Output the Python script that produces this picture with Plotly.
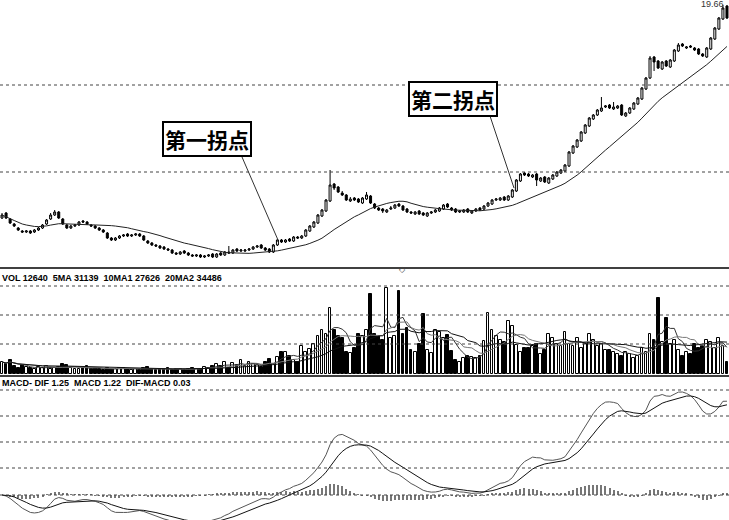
import pandas as pd
import plotly.graph_objects as go

# price data (one candle per trading day)
closes = [5.1,4.8,4.3,4.0,3.6,3.4,3.5,3.3,3.6,3.8,
4.1,4.6,5.1,5.4,4.8,4.2,3.8,4.0,4.1,4.4,
4.4,4.2,4.0,3.8,3.6,3.4,2.8,2.6,2.8,3.0,
3.1,3.0,3.1,3.2,3.0,2.6,2.3,2.1,2.0,1.8,
1.7,1.6,1.3,1.2,1.4,1.3,1.1,1.0,1.1,0.9,
1.0,1.1,0.9,1.2,1.1,1.4,1.3,1.6,1.5,1.6,
1.6,1.7,1.9,2.0,1.8,1.6,1.4,2.1,2.6,2.4,
2.6,2.5,2.9,2.8,3.0,3.6,4.0,4.4,5.1,5.6,
6.6,8.1,7.8,7.4,7.1,6.6,6.7,6.6,6.4,6.8,
7.1,6.3,5.8,5.6,5.5,5.6,5.8,6.1,6.0,5.6,
5.4,5.3,5.4,5.2,5.1,5.3,5.4,5.6,5.8,6.1,
5.9,5.6,5.4,5.5,5.6,5.4,5.5,5.7,5.6,6.0,
6.3,6.6,6.7,6.8,6.6,7.0,7.6,8.6,9.2,9.1,
9.0,9.1,8.6,8.8,8.4,8.8,9.1,9.4,9.6,10.1,
11.4,12.0,12.6,13.4,14.1,14.8,15.1,15.6,15.8,16.0,
15.8,15.9,16.0,15.1,15.3,15.8,16.3,16.8,17.8,18.8,
20.8,20.4,19.8,20.4,20.0,20.6,21.6,22.1,22.0,21.9,
21.9,21.6,21.2,21.0,21.8,22.8,23.8,24.8,25.8,24.8]

opens = [4.8,5.3,4.7,4.2,3.8,3.5,3.4,3.5,3.4,3.6,
3.8,4.2,4.7,5.1,5.4,4.7,4.1,3.8,4.0,4.1,
4.5,4.4,4.1,4.0,3.8,3.6,3.3,2.8,2.6,2.8,
3.0,3.2,3.0,3.1,3.2,3.0,2.5,2.3,2.1,2.0,
1.9,1.7,1.6,1.3,1.2,1.5,1.3,1.1,1.0,1.1,
0.9,1.0,1.2,0.9,1.3,1.1,1.4,1.3,1.7,1.5,
1.5,1.6,1.7,1.9,2.1,1.8,1.7,1.4,2.1,2.6,
2.4,2.7,2.5,2.9,2.8,3.0,3.5,3.9,4.3,5.0,
5.5,6.5,8.2,7.9,7.3,7.1,6.5,6.8,6.7,6.3,
6.7,7.0,6.2,5.8,5.7,5.4,5.7,5.8,6.2,6.0,
5.7,5.4,5.2,5.5,5.3,5.0,5.3,5.4,5.5,5.7,
6.2,5.8,5.7,5.4,5.4,5.7,5.3,5.5,5.8,5.7,
6.0,6.2,6.6,6.6,6.9,6.6,6.9,7.5,8.5,9.3,
9.2,8.9,9.2,8.5,8.9,8.3,8.7,9.0,9.3,9.5,
10.0,11.3,11.9,12.5,13.3,14.0,14.7,15.1,15.5,15.9,
16.1,15.7,15.8,16.1,15.0,15.3,15.7,16.2,16.7,17.7,
18.8,20.9,20.5,19.7,20.5,19.9,20.5,21.5,22.2,21.8,
22.0,21.8,21.7,21.2,20.9,21.7,22.7,23.7,24.7,26.0]

highs = [5.3,5.4,4.8,4.3,3.9,3.6,3.6,3.6,3.7,3.9,
4.2,4.7,5.3,5.6,5.5,4.8,4.2,4.1,4.2,4.5,
4.6,4.5,4.2,4.1,3.9,3.7,3.4,2.9,2.9,3.1,
3.2,3.3,3.2,3.3,3.3,3.1,2.6,2.4,2.2,2.1,
2.0,1.8,1.7,1.4,1.5,1.6,1.4,1.2,1.2,1.2,
1.1,1.2,1.3,1.3,1.4,1.5,2.0,1.7,1.8,1.7,
1.7,1.8,2.0,2.1,2.2,1.9,1.8,2.2,2.7,2.7,
2.7,2.8,3.0,3.0,3.1,3.7,4.1,4.5,5.2,5.7,
6.7,9.6,8.3,8.0,7.5,7.2,6.9,6.9,6.8,6.9,
7.4,7.1,6.3,5.9,5.8,5.7,6.0,6.2,6.3,6.1,
5.8,5.5,5.5,5.6,5.4,5.4,5.5,5.7,5.9,6.2,
6.3,5.9,5.8,5.6,5.7,5.8,5.6,5.8,5.9,6.1,
6.4,6.7,6.8,6.9,7.0,7.1,7.7,8.7,9.3,9.4,
9.3,9.2,9.3,8.9,9.0,8.9,9.2,9.5,9.7,10.2,
11.5,12.1,12.7,13.5,14.2,14.9,15.2,15.7,16.9,16.1,
16.2,16.4,16.1,16.2,15.4,15.9,16.4,16.9,17.9,18.9,
21.0,21.0,20.6,20.5,20.6,20.7,21.7,22.3,22.3,22.0,
22.1,21.9,21.8,21.3,21.9,22.9,23.9,24.9,26.1,26.1]

lows = [4.7,4.7,4.2,3.9,3.5,3.3,3.3,3.2,3.3,3.5,
3.7,4.1,4.6,5.0,4.7,4.1,3.7,3.7,3.9,4.0,
4.3,4.1,3.9,3.7,3.5,3.3,2.7,2.5,2.5,2.7,
2.9,2.9,2.9,3.0,2.9,2.5,2.2,2.0,1.9,1.7,
1.6,1.5,1.2,1.1,1.1,1.2,1.0,0.9,0.9,0.8,
0.8,0.9,0.8,0.8,1.0,1.0,1.2,1.2,1.4,1.4,
1.4,1.5,1.6,1.8,1.7,1.5,1.3,1.3,2.0,2.3,
2.3,2.4,2.4,2.7,2.7,2.9,3.4,3.8,4.2,4.9,
5.4,6.4,7.6,7.3,7.0,6.5,6.4,6.5,6.3,6.2,
6.6,6.2,5.7,5.5,5.3,5.3,5.6,5.7,5.9,5.5,
5.3,5.2,5.1,5.1,5.0,4.9,5.2,5.3,5.4,5.6,
5.8,5.5,5.3,5.3,5.3,5.3,5.2,5.4,5.5,5.6,
5.9,6.1,6.5,6.5,6.5,6.5,6.8,7.4,8.4,9.0,
8.9,8.8,8.0,8.4,8.3,8.2,8.6,8.9,9.2,9.4,
9.9,11.2,11.8,12.4,13.2,13.9,14.6,15.0,15.4,15.8,
15.7,15.6,15.7,15.0,14.9,15.2,15.6,16.1,16.6,17.6,
18.7,19.5,19.7,19.6,19.9,19.8,20.4,21.4,21.9,21.7,
21.8,21.5,21.1,20.9,20.8,21.6,22.6,23.6,24.6,24.7]

volumes = [12,10,14,8,6,9,7,6,5,7,6,8,5,6,7,10,9,6,5,5,
6,8,5,6,5,4,6,5,5,6,6,5,4,5,4,6,7,5,4,5,
5,6,4,5,5,4,5,6,5,5,7,6,8,
10,8,12,6,11,9,14,8,12,10,9,7,12,15,10,17,22,
22,18,14,12,28,22,25,30,38,44,
40,66,44,38,36,22,21,26,40,38,
44,80,40,38,34,86,36,38,83,40,
46,24,22,30,60,24,21,44,42,36,
39,23,14,12,16,18,17,16,18,33,
61,44,38,34,32,53,48,29,22,26,
26,28,30,20,24,40,36,30,28,42,
30,28,36,26,30,40,34,28,30,24,
24,22,20,18,22,20,16,18,26,22,
40,34,76,32,56,30,34,24,18,22,
20,30,26,28,34,32,26,36,28,12]

vol_label = "VOL 12640  5MA 31139  10MA1 27626  20MA2 34486"
macd_label = "MACD- DIF 1.25  MACD 1.22  DIF-MACD 0.03"

W, H = 729, 520
n = len(closes)
x = list(range(n))
df = pd.DataFrame({"o": opens, "h": highs, "l": lows, "c": closes, "v": volumes})

ma = df["c"].rolling(20, min_periods=1).mean()
vma5 = df["v"].rolling(5, min_periods=1).mean()
vma10 = df["v"].rolling(10, min_periods=1).mean()
vma20 = df["v"].rolling(20, min_periods=1).mean()
dif = df["c"].ewm(span=12, adjust=False).mean() - df["c"].ewm(span=26, adjust=False).mean()
dea = dif.ewm(span=9, adjust=False).mean()
hist = 0.5 * (dif - dea)

fig = go.Figure()
fig.add_trace(go.Candlestick(x=x, open=opens, high=highs, low=lows, close=closes,
    increasing=dict(line=dict(color="black", width=1), fillcolor="white"),
    decreasing=dict(line=dict(color="black", width=1), fillcolor="black"),
    whiskerwidth=0, xaxis="x", yaxis="y"))
fig.add_trace(go.Scatter(x=x, y=ma, mode="lines", line=dict(color="#222", width=1), xaxis="x", yaxis="y"))

vcol = ["white" if c >= o else "black" for o, c in zip(opens, closes)]
fig.add_trace(go.Bar(x=x, y=volumes, marker=dict(color=vcol, line=dict(color="black", width=1)),
    width=0.7, xaxis="x2", yaxis="y2"))
for s, col in [(vma5, "#333"), (vma10, "#777"), (vma20, "#111")]:
    fig.add_trace(go.Scatter(x=x, y=s, mode="lines", line=dict(color=col, width=1), xaxis="x2", yaxis="y2"))

fig.add_trace(go.Bar(x=x, y=hist, marker=dict(color="#777", line=dict(width=0)), width=0.25,
    xaxis="x3", yaxis="y3"))
fig.add_trace(go.Scatter(x=x, y=dif, mode="lines", line=dict(color="#555", width=1), xaxis="x3", yaxis="y3"))
fig.add_trace(go.Scatter(x=x, y=dea, mode="lines", line=dict(color="#111", width=1), xaxis="x3", yaxis="y3"))

# macd scaling: zero at y=495px, max dif at y=392px
m = float(dif.max())
span = m * 142 / 103
lo = -span * 25 / 142
hi = lo + span

def py(p):
    return 1 - p / H

ax = dict(range=[-0.5, n - 0.5], visible=False, fixedrange=True)
fig.update_layout(
    width=W, height=H, margin=dict(l=0, r=0, t=0, b=0),
    paper_bgcolor="white", plot_bgcolor="white", showlegend=False, bargap=0,
    xaxis=dict(ax, domain=[0, 1]), xaxis2=dict(ax, anchor="y2"), xaxis3=dict(ax, anchor="y3"),
    yaxis=dict(domain=[py(266), 1], range=[0, 26.6], visible=False),
    yaxis2=dict(domain=[py(374), py(270)], range=[0, 104], visible=False),
    yaxis3=dict(domain=[0, py(378)], range=[lo, hi], visible=False),
)
fig.update_xaxes(rangeslider_visible=False)

shapes = []
for gy in [85, 172, 286, 315, 344, 390, 416, 442, 468, 495]:
    shapes.append(dict(type="line", xref="paper", yref="paper", x0=0, x1=1, y0=py(gy), y1=py(gy),
                       line=dict(color="#444", width=1, dash="dot")))
for gy in [268, 376]:
    shapes.append(dict(type="line", xref="paper", yref="paper", x0=0, x1=1, y0=py(gy), y1=py(gy),
                       line=dict(color="black", width=1.5)))
for (x0, y0, x1, y1) in [(242, 157, 278, 240), (490, 116, 514, 188)]:
    shapes.append(dict(type="line", xref="paper", yref="paper", x0=x0 / W, x1=x1 / W, y0=py(y0), y1=py(y1),
                       line=dict(color="#333", width=1)))
fig.update_layout(shapes=shapes)

cjk = "Noto Sans CJK SC"
anns = [
    dict(text="<b>第一拐点</b>", x=207 / W, y=py(139)),
    dict(text="<b>第二拐点</b>", x=453 / W, y=py(99)),
]
for a in anns:
    fig.add_annotation(a, xref="paper", yref="paper", xanchor="center", yanchor="middle", showarrow=False,
                       font=dict(family=cjk, size=21, color="black"),
                       bordercolor="black", borderwidth=2, borderpad=1, bgcolor="white")
small = dict(family="Liberation Sans", size=9, color="black")
fig.add_annotation(text="<b>" + vol_label + "</b>", x=0, y=py(278), xref="paper", yref="paper",
                   xanchor="left", yanchor="middle", showarrow=False, font=small)
fig.add_annotation(text="<b>" + macd_label + "</b>", x=0, y=py(383), xref="paper", yref="paper",
                   xanchor="left", yanchor="middle", showarrow=False, font=small)
fig.add_annotation(text="19.66", x=712 / W, y=py(4), xref="paper", yref="paper", showarrow=False,
                   xanchor="center", yanchor="middle", font=dict(family="Liberation Sans", size=9, color="#333"))
fig.add_annotation(text="◇", x=402 / W, y=py(268), xref="paper", yref="paper", showarrow=False,
                   xanchor="center", yanchor="middle", font=dict(size=8, color="#444"))

fig.write_html("out.html", config={"displayModeBar": False},
               post_script="document.body.style.margin='0';")
